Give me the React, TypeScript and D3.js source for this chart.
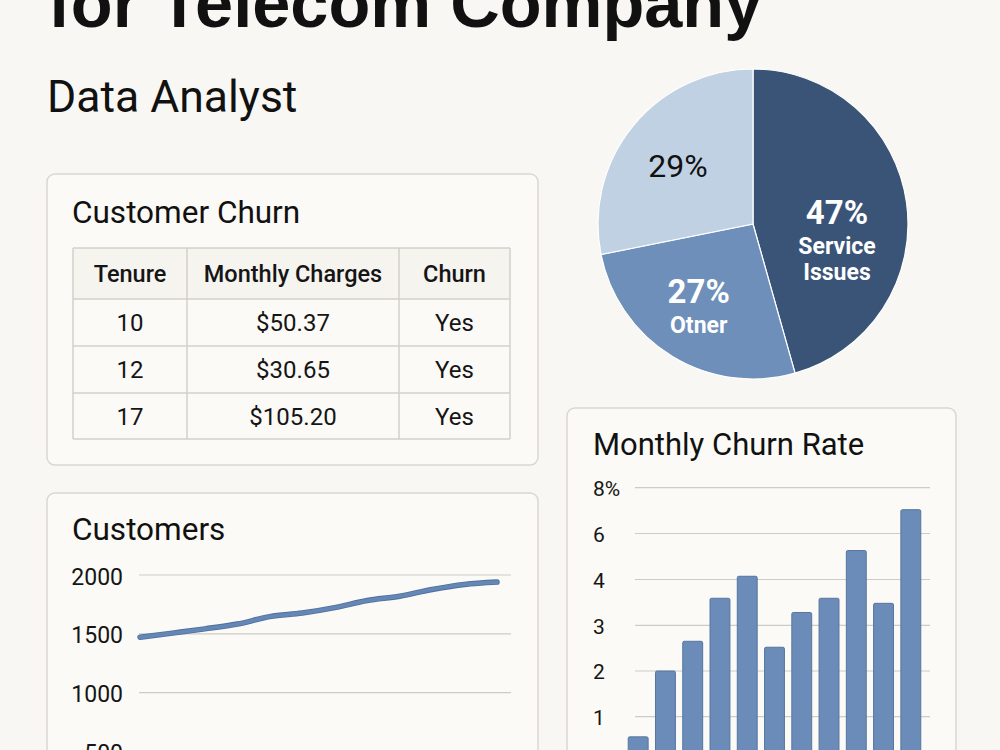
import React, { useEffect, useRef } from "react";
import * as d3 from "d3";

// ---------- data ----------
const titleLine = "for Telecom Company";
const subtitle = "Data Analyst";

const tableTitle = "Customer Churn";
const tableHeaders = ["Tenure", "Monthly Charges", "Churn"];
const tenure = ["10", "12", "17"];
const monthlyCharges = ["$50.37", "$30.65", "$105.20"];
const churn = ["Yes", "Yes", "Yes"];

const pieValues = [47, 27, 29];
const pieNames = [["Service", "Issues"], ["Otner"], []];

const lineTitle = "Customers";
const customers = [1471, 1506, 1542, 1583, 1646, 1677, 1723, 1783, 1820, 1877, 1920, 1940];
const lineTicks = [500, 1000, 1500, 2000];

const barTitle = "Monthly Churn Rate";
const churnRate = [0.56, 2.0, 2.65, 3.59, 4.14, 2.52, 3.28, 3.59, 5.26, 3.48, 7.04];
const barTicks = [1, 2, 3, 4, 6, 8];
const barTickLabels = ["1", "2", "3", "4", "6", "8%"];

// ---------- style ----------
const BG = "#f9f7f3";
const CARD = "#fbfaf6";
const CARD_STROKE = "#dad7d1";
const GRID = "#cfccc6";
const FONT = "Roboto, 'Noto Sans', sans-serif";
const pieColors = ["#3a5478", "#6e8fb9", "#c1d1e4"];
const BAR = "#6b8cb8";

export default function App() {
  const ref = useRef<SVGSVGElement>(null);

  useEffect(() => {
    const svg = d3.select(ref.current);
    svg.selectAll("*").remove();

    svg.append("rect").attr("width", 1000).attr("height", 750).attr("fill", BG);

    // Title
    svg.append("text").attr("x", 48).attr("y", 27)
      .attr("font-family", "'Liberation Sans', Arial, sans-serif")
      .attr("font-weight", 700).attr("font-size", 68.5).attr("fill", "#111")
      .text(titleLine);
    svg.append("text").attr("x", 47).attr("y", 112)
      .attr("font-family", FONT).attr("font-size", 44.5).attr("fill", "#111")
      .text(subtitle);

    const card = (x: number, y: number, w: number, h: number) =>
      svg.append("rect").attr("x", x).attr("y", y).attr("width", w).attr("height", h)
        .attr("rx", 8).attr("fill", CARD).attr("stroke", CARD_STROKE).attr("stroke-width", 1.5);

    // ---------- Table card ----------
    card(47, 174, 491, 291);
    svg.append("text").attr("x", 72).attr("y", 223).attr("font-family", FONT)
      .attr("font-size", 31.5).attr("fill", "#111").text(tableTitle);

    const colEdges = [73, 187, 399, 510];
    const rowEdges = [248, 299, 346, 393, 439];
    const tg = svg.append("g");
    tg.append("rect").attr("x", colEdges[0]).attr("y", rowEdges[0])
      .attr("width", colEdges[3] - colEdges[0]).attr("height", rowEdges[1] - rowEdges[0])
      .attr("fill", "#f6f4ef");
    const rows = [tableHeaders, ...tenure.map((t, i) => [t, monthlyCharges[i], churn[i]])];
    rows.forEach((r, ri) => {
      r.forEach((c, ci) => {
        tg.append("text")
          .attr("x", (colEdges[ci] + colEdges[ci + 1]) / 2)
          .attr("y", (rowEdges[ri] + rowEdges[ri + 1]) / 2)
          .attr("dy", "0.36em").attr("text-anchor", "middle")
          .attr("font-family", FONT).attr("font-size", ri === 0 ? 23.5 : 24)
          .attr("font-weight", ri === 0 ? 500 : 400).attr("fill", "#151515")
          .text(c);
      });
    });
    rowEdges.forEach((y) => tg.append("line").attr("x1", colEdges[0]).attr("x2", colEdges[3])
      .attr("y1", y).attr("y2", y).attr("stroke", "#d3d0ca").attr("stroke-width", 1.5));
    colEdges.forEach((x) => tg.append("line").attr("x1", x).attr("x2", x)
      .attr("y1", rowEdges[0]).attr("y2", rowEdges[rowEdges.length - 1])
      .attr("stroke", "#d3d0ca").attr("stroke-width", 1.5));

    // ---------- Pie ----------
    const cx = 753, cy = 224, R = 155;
    const pie = d3.pie<number>().sort(null).value((d) => d);
    const arcs = pie(pieValues);
    const arc = d3.arc<d3.PieArcDatum<number>>().innerRadius(0).outerRadius(R);
    const labelArc = d3.arc<d3.PieArcDatum<number>>().innerRadius(R * 0.56).outerRadius(R * 0.56);
    const pg = svg.append("g").attr("transform", `translate(${cx},${cy})`);
    pg.selectAll("path").data(arcs).join("path")
      .attr("d", arc).attr("fill", (_, i) => pieColors[i])
      .attr("stroke", "#ffffff").attr("stroke-width", 1.2);
    const nudge = [[-2, 4], [-9, -3], [-8, 0]];
    arcs.forEach((a, i) => {
      const [lx0, ly0] = labelArc.centroid(a);
      const lx = lx0 + nudge[i][0];
      const ly = ly0 + nudge[i][1];
      const names = pieNames[i];
      const white = i < 2;
      const pctY = ly + 8;
      pg.append("text").attr("x", lx).attr("y", pctY).attr("text-anchor", "middle")
        .attr("font-family", FONT).attr("font-size", white ? 33 : 32)
        .attr("font-weight", white ? 700 : 400)
        .attr("fill", white ? "#ffffff" : "#111").text(`${pieValues[i]}%`);
      names.forEach((n, k) => {
        pg.append("text").attr("x", lx).attr("y", pctY + 30 + k * 26).attr("text-anchor", "middle")
          .attr("font-family", FONT).attr("font-size", 23).attr("font-weight", 700)
          .attr("fill", "#ffffff").text(n);
      });
    });

    // ---------- Line card ----------
    card(47, 493, 491, 300);
    svg.append("text").attr("x", 72).attr("y", 540).attr("font-family", FONT)
      .attr("font-size", 31.5).attr("fill", "#111").text(lineTitle);
    const lx0 = 139, lx1 = 511;
    const yL = d3.scaleLinear().domain([500, 2000]).range([751.5, 575]);
    const xL = d3.scalePoint<number>().domain(customers.map((_, i) => i)).range([140, 497]);
    const lg = svg.append("g");
    lineTicks.forEach((t) => {
      lg.append("line").attr("x1", lx0).attr("x2", lx1).attr("y1", yL(t)).attr("y2", yL(t))
        .attr("stroke", GRID).attr("stroke-width", 1.2);
      lg.append("text").attr("x", 123).attr("y", yL(t)).attr("dy", "0.42em")
        .attr("text-anchor", "end").attr("font-family", FONT).attr("font-size", 23)
        .attr("fill", "#151515").text(String(t));
    });
    const line = d3.line<number>().x((_, i) => xL(i)!).y((d) => yL(d)).curve(d3.curveMonotoneX);
    lg.append("path").attr("d", line(customers)).attr("fill", "none")
      .attr("stroke", "#4f6f9c").attr("stroke-width", 5.5).attr("stroke-linecap", "round");
    lg.append("path").attr("d", line(customers)).attr("fill", "none")
      .attr("stroke", "#6487b5").attr("stroke-width", 3.8).attr("stroke-linecap", "round");

    // ---------- Bar card ----------
    card(567, 408, 389, 400);
    svg.append("text").attr("x", 593).attr("y", 455).attr("font-family", FONT)
      .attr("font-size", 31).attr("fill", "#111").text(barTitle);
    const yB = d3.scaleLinear().domain([0, 1, 2, 3, 4, 6, 8])
      .range([762.5, 716.7, 671, 625.3, 579.5, 533.5, 487.7]);
    const xB = d3.scaleBand<number>().domain(churnRate.map((_, i) => i))
      .range([625.5, 923.5]).paddingInner(0.27).paddingOuter(0.1);
    const bg = svg.append("g");
    barTicks.forEach((t, i) => {
      bg.append("line").attr("x1", 635).attr("x2", 930).attr("y1", yB(t)).attr("y2", yB(t))
        .attr("stroke", GRID).attr("stroke-width", 1.2);
      bg.append("text").attr("x", 593).attr("y", yB(t)).attr("dy", "0.4em")
        .attr("font-family", FONT).attr("font-size", 21).attr("fill", "#151515")
        .text(barTickLabels[i]);
    });
    bg.selectAll("rect.bar").data(churnRate).join("rect").attr("class", "bar")
      .attr("x", (_, i) => xB(i)!).attr("width", xB.bandwidth())
      .attr("y", (d) => yB(d)).attr("height", (d) => yB(0) - yB(d))
      .attr("rx", 1.5)
      .attr("fill", BAR).attr("stroke", "#56769f").attr("stroke-width", 1);
  }, []);

  return (
    <svg ref={ref} width={1000} height={750}
      style={{ position: "absolute", left: 0, top: 0, display: "block" }} />
  );
}
